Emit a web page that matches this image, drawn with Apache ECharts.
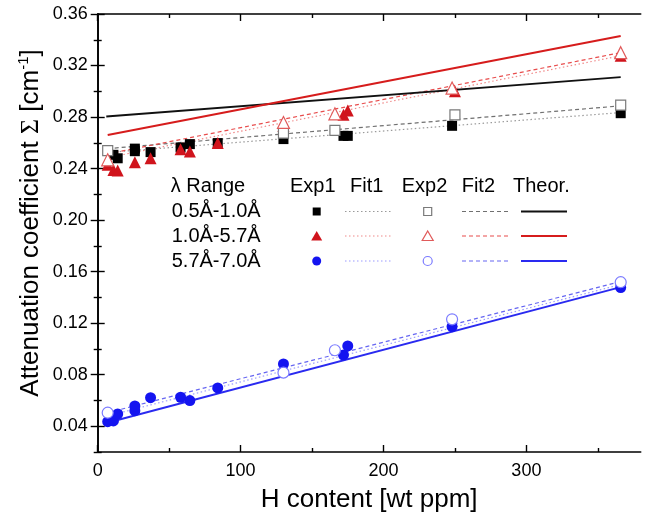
<!DOCTYPE html>
<html>
<head>
<meta charset="utf-8">
<script src="https://cdn.jsdelivr.net/npm/echarts@6/dist/echarts.min.js"></script>
<style>
  html, body { margin: 0; padding: 0; background: #fff; }
  #chart { width: 651px; height: 519px; }
</style>
</head>
<body>
<div id="chart"></div>
<script>
// Attenuation coefficient vs. hydrogen content for three wavelength bands

// Tick positions
const xMajorTicks = [0, 100, 200, 300];
const xMinorTicks = [50, 150, 250, 350];
const yMajorTicks = [0.04, 0.08, 0.12, 0.16, 0.20, 0.24, 0.28, 0.32, 0.36];
const yMinorTicks = [0.02, 0.06, 0.10, 0.14, 0.18, 0.22, 0.26, 0.30, 0.34];

// Band labels (legend rows)
const bandLabels = ['0.5\u00C5-1.0\u00C5', '1.0\u00C5-5.7\u00C5', '5.7\u00C5-7.0\u00C5'];
const columnLabels = ['Exp1', 'Fit1', 'Exp2', 'Fit2', 'Theor.'];

// 0.5-1.0 Å band  [H content (wt ppm), Σ (1/cm)]
const exp1Band1 = [[11, 0.2507], [14, 0.2480], [26, 0.2555], [26, 0.2535], [37, 0.2528],
  [58, 0.2564], [64.5, 0.2590], [84, 0.2598], [130, 0.2629], [172, 0.2654],
  [175, 0.2654], [248, 0.2732], [366, 0.2830]];
const exp2Band1 = [[7, 0.2540], [130, 0.2675], [166, 0.2696], [250, 0.2817], [366, 0.2893]];
const fit1Band1 = [[7, 0.2525], [366, 0.2835]];
const fit2Band1 = [[7, 0.2555], [366, 0.2887]];
const theorBand1 = [[6, 0.2804], [366, 0.3110]];

// 1.0-5.7 Å band
const exp1Band2 = [[7, 0.2429], [11, 0.2390], [14, 0.2385], [26, 0.2450], [37, 0.2480],
  [58, 0.2551], [64.5, 0.2533], [84, 0.2598], [130, 0.2730], [172, 0.2817],
  [175, 0.2851], [250, 0.3000], [366, 0.3276]];
const exp2Band2 = [[7, 0.2468], [130, 0.2758], [166, 0.2825], [248, 0.3025], [366, 0.3300]];
const fit1Band2 = [[7, 0.2485], [366, 0.3276]];
const fit2Band2 = [[7, 0.2514], [366, 0.3300]];
const theorBand2 = [[7, 0.2660], [366, 0.3430]];

// 5.7-7.0 Å band
const exp1Band3 = [[7, 0.0435], [11, 0.0441], [14, 0.0495], [26, 0.0521], [26, 0.0557],
  [37, 0.0622], [58, 0.0625], [64.5, 0.0599], [84, 0.0697], [130, 0.0883],
  [172, 0.0953], [175, 0.1023], [248, 0.1173], [366, 0.1476]];
const exp2Band3 = [[7, 0.0505], [130, 0.0816], [166, 0.0990], [248, 0.1230], [366, 0.1518]];
const fit1Band3 = [[7, 0.0480], [366, 0.1500]];
const fit2Band3 = [[7, 0.0505], [366, 0.1523]];
const theorBand3 = [[6, 0.0425], [366, 0.1480]];

const FONT = 'Liberation Sans, Arial, sans-serif';
const SERIF = 'Liberation Serif, Times New Roman, serif';

// Colour sets per band: filled marker, open marker, dotted fit, dashed fit, theory
const palette = [
  { fill: '#000000', open: '#7a7a7a', dot: '#9a9a9a', dash: '#707070', theor: '#111111' },
  { fill: '#d0141c', open: '#e05a5a', dot: '#f08a8a', dash: '#e84c4c', theor: '#d61c1c' },
  { fill: '#1414f0', open: '#7b7bff', dot: '#9c9cff', dash: '#6666f2', theor: '#2a2af0' }
];
const filledSymbols = ['rect', 'triangle', 'circle'];
const markerSizes = [10, 12, 11];

const bands = [
  { exp1: exp1Band1, exp2: exp2Band1, fit1: fit1Band1, fit2: fit2Band1, theor: theorBand1 },
  { exp1: exp1Band2, exp2: exp2Band2, fit1: fit1Band2, fit2: fit2Band2, theor: theorBand2 },
  { exp1: exp1Band3, exp2: exp2Band3, fit1: fit1Band3, fit2: fit2Band3, theor: theorBand3 }
];

const series = [];
bands.forEach(function (b, i) {
  const c = palette[i];
  series.push({ type: 'line', data: b.fit1, symbol: 'none', silent: true, z: 2,
    lineStyle: { color: c.dot, width: 1.2, type: [1.5, 2.5] } });
  series.push({ type: 'line', data: b.fit2, symbol: 'none', silent: true, z: 2,
    lineStyle: { color: c.dash, width: 1.2, type: [4, 3] } });
  series.push({ type: 'line', data: b.theor, symbol: 'none', silent: true, z: 3,
    lineStyle: { color: c.theor, width: 2 } });
});
bands.forEach(function (b, i) {
  const c = palette[i];
  series.push({ type: 'scatter', data: b.exp1, symbol: filledSymbols[i], symbolSize: markerSizes[i], z: 4,
    itemStyle: { color: c.fill, opacity: 1 } });
});
bands.forEach(function (b, i) {
  const c = palette[i];
  series.push({ type: 'scatter', data: b.exp2, symbol: filledSymbols[i], symbolSize: markerSizes[i], z: 5,
    itemStyle: { color: '#ffffff', borderColor: c.open, borderWidth: 1.2, opacity: 1 } });
});

// Frame axes: bottom/left carry labels, top/right mirror the ticks
const axisLineStyle = { show: true, lineStyle: { color: '#000', width: 1.6 } };
function xAx(pos, ticks, len, labels, extra) {
  return Object.assign({
    type: 'value', min: 0, max: 380, position: pos,
    axisLine: axisLineStyle,
    axisTick: { show: true, inside: true, length: len, customValues: ticks, lineStyle: { color: '#000', width: 1.4 } },
    axisLabel: labels ? { show: true, customValues: labels, fontSize: 18, color: '#000', margin: 10, fontFamily: FONT } : { show: false },
    splitLine: { show: false }
  }, extra || {});
}
function yAx(pos, ticks, len, labels, extra) {
  return Object.assign({
    type: 'value', min: 0.02, max: 0.36, position: pos,
    axisLine: axisLineStyle,
    axisTick: { show: true, inside: true, length: len, customValues: ticks, lineStyle: { color: '#000', width: 1.4 } },
    axisLabel: labels ? { show: true, customValues: labels, fontSize: 18, color: '#000', margin: 10, fontFamily: FONT,
      formatter: function (v) { return v.toFixed(2); } } : { show: false },
    splitLine: { show: false }
  }, extra || {});
}

// Legend table drawn as graphic elements
const legendGraphics = [];
function txt(x, y, s) {
  legendGraphics.push({ type: 'text', x: x, y: y, silent: true,
    style: { text: s, fontSize: 20, fontFamily: FONT, fill: '#000', textAlign: 'left', textVerticalAlign: 'middle' } });
}
const colX = [290, 350, 401.7, 461.7, 513];
txt(170.7, 186, '\u03BB Range');
columnLabels.forEach(function (s, k) { txt(colX[k], 186, s); });
const rowY = [211.5, 236, 261];
bandLabels.forEach(function (s, i) { txt(171.7, rowY[i], s); });
function sym(kind, cx, cy, filled, color) {
  const st = filled ? { fill: color } : { fill: '#fff', stroke: color, lineWidth: 1.2 };
  if (kind === 'rect') {
    legendGraphics.push({ type: 'rect', silent: true, shape: { x: cx - 4, y: cy - 4, width: 8, height: 8 }, style: st });
  } else if (kind === 'triangle') {
    legendGraphics.push({ type: 'polygon', silent: true, shape: { points: [[cx, cy - 5], [cx + 5.5, cy + 4.5], [cx - 5.5, cy + 4.5]] }, style: st });
  } else {
    legendGraphics.push({ type: 'circle', silent: true, shape: { cx: cx, cy: cy, r: 4.5 }, style: st });
  }
}
function seg(x1, x2, y, color, width, dash) {
  legendGraphics.push({ type: 'line', silent: true, shape: { x1: x1, y1: y, x2: x2, y2: y },
    style: { stroke: color, lineWidth: width, lineDash: dash } });
}
palette.forEach(function (c, i) {
  const y = rowY[i];
  sym(filledSymbols[i], 316.7, y, true, c.fill);
  seg(345, 391, y, c.dot, 1.2, [1.5, 2.5]);
  sym(filledSymbols[i], 427.7, y, false, c.open);
  seg(462, 509, y, c.dash, 1.2, [4, 3]);
  seg(521, 567, y, c.theor, 2, null);
});

// Vertical axis title with a serif sigma and superscript unit
legendGraphics.push({
  type: 'text', x: 31, y: 223, rotation: Math.PI / 2, silent: true,
  style: {
    text: 'Attenuation coefficient {sig|\u03A3} [cm{sup|-1}]',
    fontSize: 26, fontFamily: FONT, fill: '#000', textAlign: 'center', textVerticalAlign: 'middle',
    rich: {
      sig: { fontSize: 26, fontFamily: SERIF, fill: '#000' },
      sup: { fontSize: 15, fontFamily: FONT, fill: '#000', verticalAlign: 'top', lineHeight: 30 }
    }
  }
});

const chart = echarts.init(document.getElementById('chart'), null, { renderer: 'canvas' });
chart.setOption({
  animation: false,
  backgroundColor: '#ffffff',
  grid: { left: 97.7, right: 10.3, top: 14, bottom: 67, containLabel: false },
  xAxis: [
    xAx('bottom', xMajorTicks, 7, xMajorTicks, {
      name: 'H content [wt ppm]', nameLocation: 'middle', nameGap: 35,
      nameTextStyle: { fontSize: 26, color: '#000', fontFamily: FONT }
    }),
    xAx('bottom', xMinorTicks, 4, null, { axisLine: { show: false } }),
    xAx('top', xMajorTicks, 7, null),
    xAx('top', xMinorTicks, 4, null, { axisLine: { show: false } })
  ],
  yAxis: [
    yAx('left', yMajorTicks, 7, yMajorTicks),
    yAx('left', yMinorTicks, 4, null, { axisLine: { show: false } }),
    yAx('right', yMajorTicks, 7, null),
    yAx('right', yMinorTicks, 4, null, { axisLine: { show: false } })
  ],
  series: series,
  graphic: legendGraphics
});
</script>
</body>
</html>
